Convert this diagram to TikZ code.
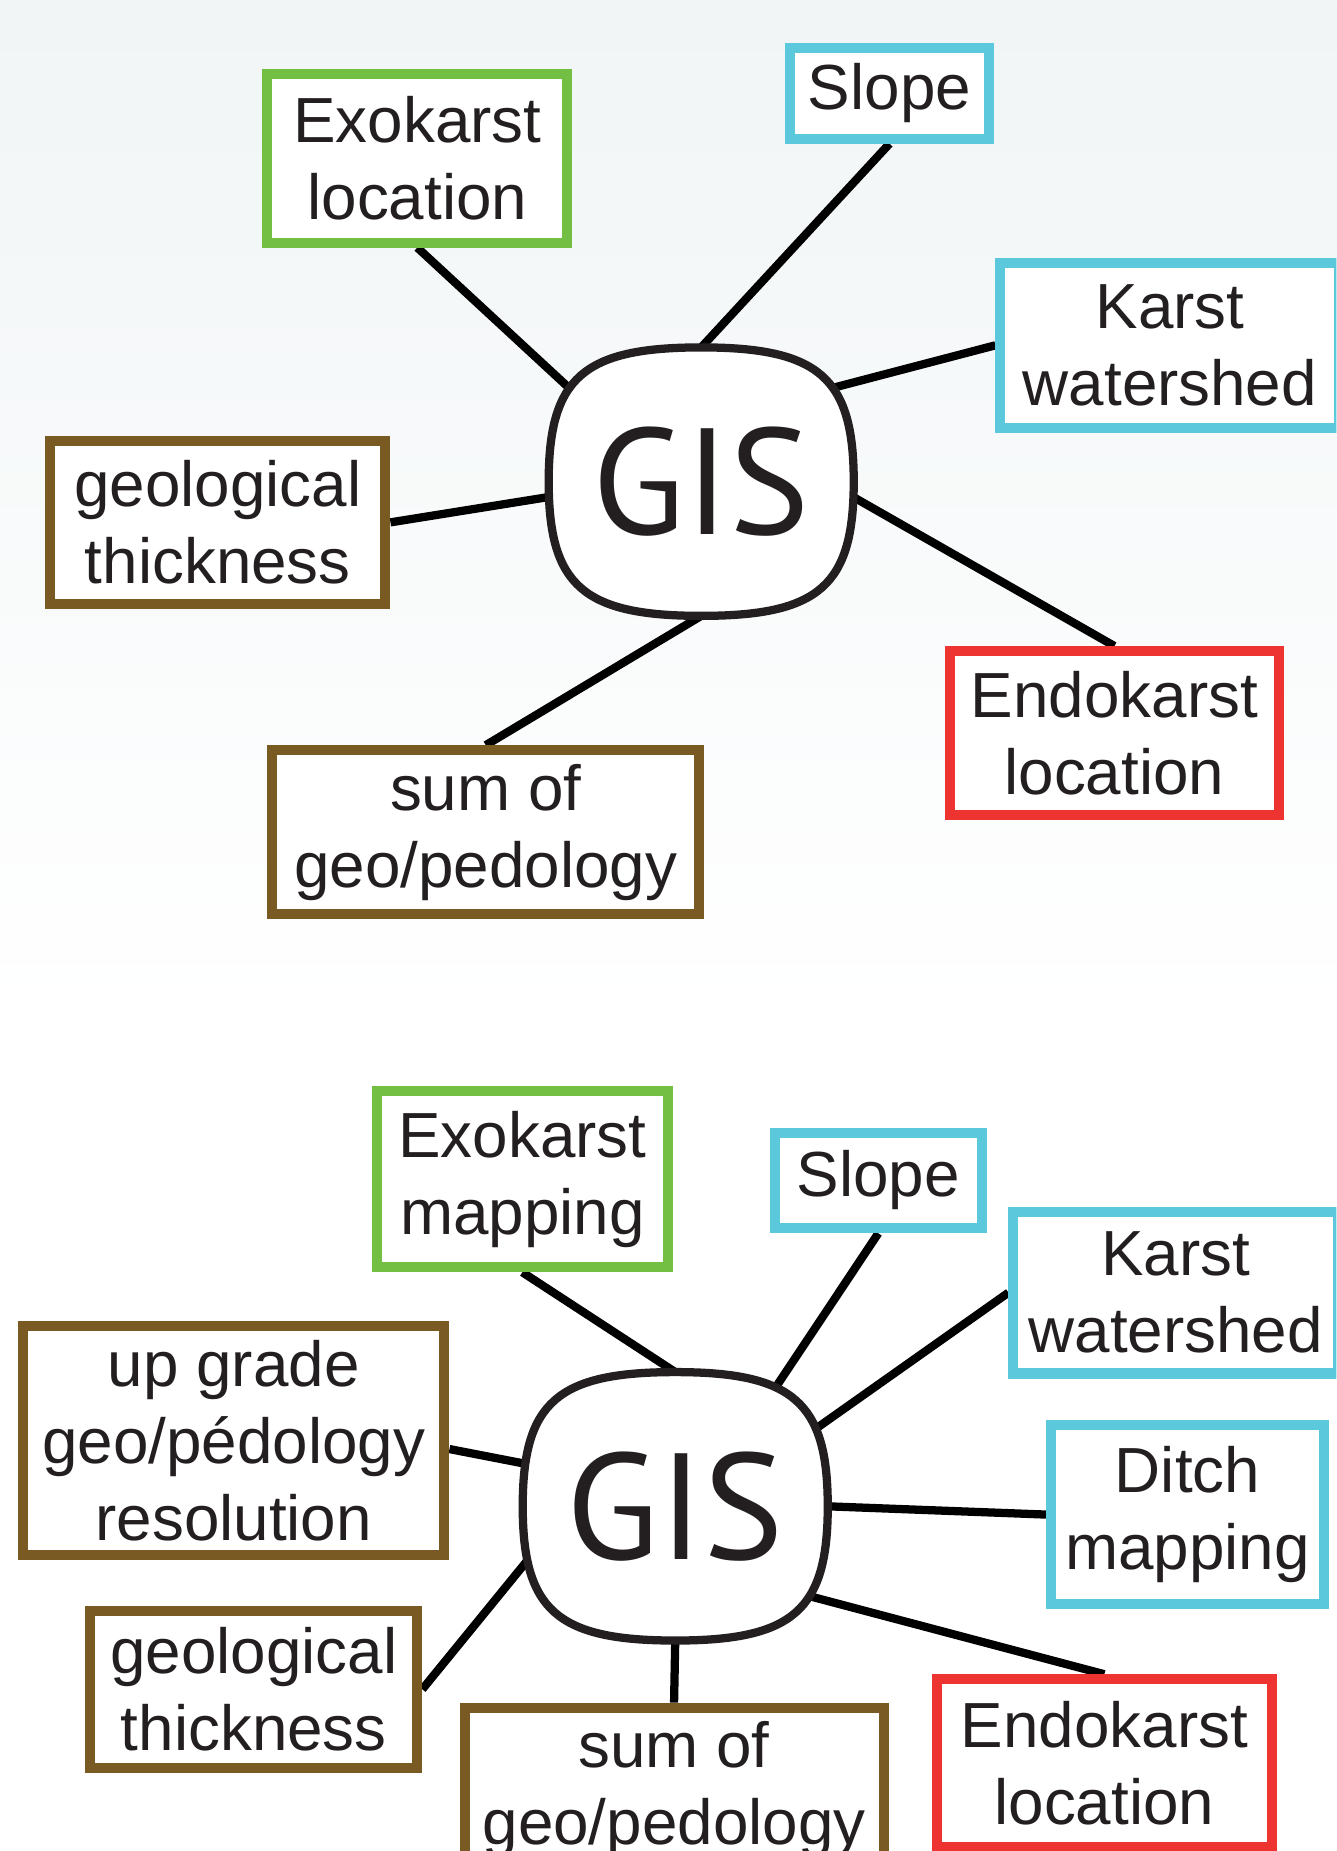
\documentclass[tikz,border=0pt]{standalone}
\usepackage{fontspec}
\setmainfont{Liberation Sans}
\newfontfamily\gisfont{PT Sans}
\usetikzlibrary{calc,backgrounds}
\definecolor{exogreen}{HTML}{72BF44}
\definecolor{hydrocyan}{HTML}{5BC8DC}
\definecolor{geobrown}{HTML}{7A5A23}
\definecolor{endored}{HTML}{EE3430}
\definecolor{ink}{HTML}{231F20}
\definecolor{bgtop}{HTML}{F1F5F6}
\tikzset{
  box/.style={draw, line width=8.5pt, fill=white, text=ink, font=\fontsize{54}{65}\selectfont, align=center, inner sep=0pt},
  exo/.style={box, draw=exogreen},
  hydro/.style={box, draw=hydrocyan},
  geo/.style={box, draw=geobrown},
  endo/.style={box, draw=endored},
  gisnode/.style={rectangle, inner sep=0pt, minimum width=258pt, minimum height=227pt, text=ink, font=\gisfont\fontsize{128}{128}\selectfont},
  gisline/.style={line width=7pt, draw=ink, fill=white},
  link/.style={line width=7pt, black}
}
% rounded squircle round a GIS node
\newcommand\gisframe[1]{%
  \draw[gisline] (#1.north)
    .. controls ([xshift=100pt]#1.north) and ([yshift=88pt]#1.east) .. (#1.east)
    .. controls ([yshift=-88pt]#1.east) and ([xshift=100pt]#1.south) .. (#1.south)
    .. controls ([xshift=-100pt]#1.south) and ([yshift=-88pt]#1.west) .. (#1.west)
    .. controls ([yshift=88pt]#1.west) and ([xshift=-100pt]#1.north) .. (#1.north) -- cycle;
}
\begin{document}
\begin{tikzpicture}[x=1pt, y=-1pt]
  \useasboundingbox (0,0) rectangle (1132,1568);
  \clip (0,0) rectangle (1132,1568);
  \begin{scope}[on background layer]
    \fill[white] (0,0) rectangle (1132,1568);
    \shade[top color=bgtop, bottom color=white] (0,0) rectangle (1132,860);
  \end{scope}

  % first scheme
  \node[gisnode] (gisA) at (594,408) {GIS};
  \node[exo, minimum width=254pt, minimum height=143pt] (exoA) at (353.5,134) {Exokarst\\location};
  \node[hydro, minimum width=168pt, minimum height=77pt] (slopeA) at (753.5,79) {Slope};
  \node[hydro, minimum width=287pt, minimum height=140pt] (karstA) at (991,292.5) {Karst\\watershed};
  \node[geo, minimum width=284pt, minimum height=138pt] (geoA) at (184.5,442.5) {geological\\thickness};
  \node[endo, minimum width=279pt, minimum height=139pt] (endoA) at (944,621) {Endokarst\\location};
  \node[geo, minimum width=362pt, minimum height=139pt] (sumA) at (411.5,705) {sum of\\geo/pedology};

  % second scheme
  \node[gisnode] (gisB) at (572,1276) {GIS};
  \node[exo, minimum width=246pt, minimum height=149pt] (exoB) at (442.5,999) {Exokarst\\mapping};
  \node[hydro, minimum width=175pt, minimum height=81pt] (slopeB) at (744,1000) {Slope};
  \node[hydro, minimum width=275pt, minimum height=137pt] (karstB) at (996,1095) {Karst\\watershed};
  \node[hydro, minimum width=231pt, minimum height=151pt] (ditchB) at (1006,1283) {Ditch\\mapping};
  \node[geo, minimum width=357pt, minimum height=194pt] (upB) at (198,1220.5) {up grade\\geo/pédology\\resolution};
  \node[geo, minimum width=277pt, minimum height=133pt] (geoB) at (215,1431) {geological\\thickness};
  \node[geo, minimum width=355pt, minimum height=139pt] (sumB) at (571,1516) {sum of\\geo/pedology};
  \node[endo, minimum width=284pt, minimum height=142pt] (endoB) at (935.5,1493.5) {Endokarst\\location};

  \begin{scope}[on background layer]
    \draw[link] (exoA.south) -- ($(gisA)+(-91,-60)$);
    \draw[link] (slopeA.south) -- (gisA.north);
    \draw[link] (karstA.west) -- ($(gisA)+(85,-72.5)$);
    \draw[link] (geoA.east) -- ($(gisA)+(-101,8.5)$);
    \draw[link] (endoA.north) -- ($(gisA)+(106,0)$);
    \draw[link] (sumA.north) -- (gisA.south);
    \draw[link] (exoB.south) -- (gisB.north);
    \draw[link] (slopeB.south) -- ($(gisB)+(68.6,-76)$);
    \draw[link] (karstB.west) -- ($(gisB)+(97.5,-50.5)$);
    \draw[link] (ditchB.west) -- (gisB.east);
    \draw[link] (endoB.north) -- ($(gisB)+(85,68.5)$);
    \draw[link] (sumB.north) -- (gisB.south);
    \draw[link] (geoB.east) -- ($(gisB)+(-107,23.5)$);
    \draw[link] ([yshift=-7pt]upB.east) -- ($(gisB)+(-98.5,-30.5)$);
    \gisframe{gisA}
    \gisframe{gisB}
  \end{scope}
\end{tikzpicture}
\end{document}
